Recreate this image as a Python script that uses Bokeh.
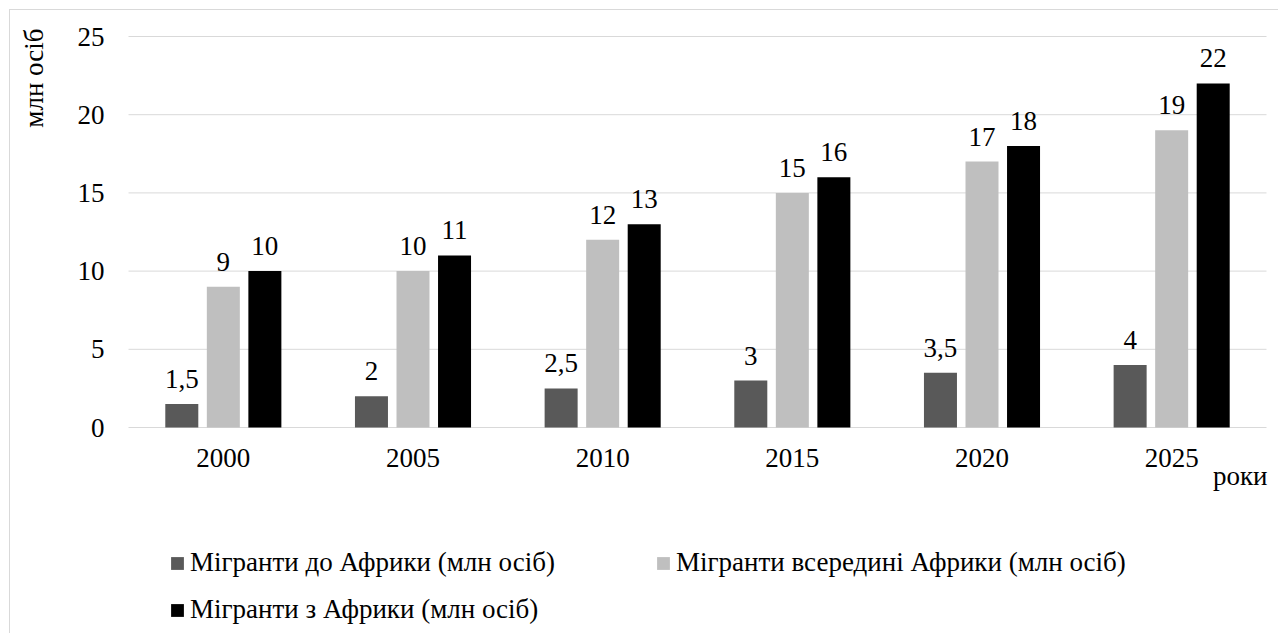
import math
from bokeh.plotting import figure
from bokeh.models import ColumnDataSource, Legend, LegendItem, Range1d
from bokeh.core.properties import value
from bokeh.embed import file_html
from bokeh.resources import INLINE

years = ["2000", "2005", "2010", "2015", "2020", "2025"]
to_africa = [1.5, 2, 2.5, 3, 3.5, 4]
within_africa = [9, 10, 12, 15, 17, 19]
from_africa = [10, 11, 13, 16, 18, 22]
y_ticks = [0, 5, 10, 15, 20, 25]

series_names = ["Мігранти до Африки (млн осіб)",
                "Мігранти всередині Африки (млн осіб)",
                "Мігранти з Африки (млн осіб)"]
x_title = "роки"
y_title = "млн осіб"
colors = ["#595959", "#bfbfbf", "#000000"]
FONT = "Liberation Serif, Times New Roman, serif"
FS = "27px"
GRID = "#d9d9d9"

def fmt(v):
    return ("%g" % v).replace(".", ",")

n = len(years)
idx = list(range(n))
offs = [-0.219, 0.0, 0.219]
series = [to_africa, within_africa, from_africa]

# one frame covers the whole canvas; the category slots occupy its middle part
G = 1138.0 / n          # px per category
PY = 391.0 / 25.0       # px per unit
p = figure(x_range=Range1d(-0.5 - 118.0 / G, n - 0.5 + 13.0 / G),
           y_range=Range1d(-207.0 / PY, 25 + 26.0 / PY),
           width=1269, height=624, output_backend="svg", toolbar_location=None,
           x_axis_type=None, y_axis_type=None,
           min_border_left=0, min_border_right=0, min_border_top=0, min_border_bottom=0)
p.styles = {"margin-left": "9px", "margin-top": "9px",
            "border-left": "1px solid #d9d9d9", "border-top": "1px solid #d9d9d9"}
p.outline_line_color = None
p.background_fill_color = "white"
p.border_fill_color = "white"
p.xgrid.visible = False
p.ygrid.visible = False

# horizontal gridlines across the category area
grid_src = ColumnDataSource(dict(x0=[-0.5] * len(y_ticks), x1=[n - 0.5] * len(y_ticks),
                                 y=y_ticks, t=[str(t) for t in y_ticks]))
p.segment(x0="x0", x1="x1", y0="y", y1="y", source=grid_src, line_color=GRID, line_width=1)
# y tick labels
p.text(x="x0", y="y", text="t", source=grid_src, x_offset=-24,
       text_align="right", text_baseline="middle",
       text_font=value(FONT), text_font_size=value(FS), text_color="black")

renderers = []
for off, vals, colr in zip(offs, series, colors):
    s = ColumnDataSource(dict(x=[i + off for i in idx], top=vals, lab=[fmt(v) for v in vals]))
    r = p.vbar(x="x", top="top", width=0.174, source=s, fill_color=colr, line_color=None)
    renderers.append(r)
    p.text(x="x", y="top", text="lab", source=s,
           text_align="center", text_baseline="alphabetic", y_offset=-25,
           text_font=value(FONT), text_font_size=value(FS), text_color="black")

# category labels
cat_src = ColumnDataSource(dict(x=idx, y=[0] * n, t=years))
p.text(x="x", y="y", text="t", source=cat_src, text_align="center",
       text_baseline="alphabetic", y_offset=30,
       text_font=value(FONT), text_font_size=value(FS), text_color="black")

# axis titles
xt_src = ColumnDataSource(dict(x=[n - 0.5], y=[0], t=[x_title]))
p.text(x="x", y="y", text="t", source=xt_src, text_align="right",
       text_baseline="alphabetic", x_offset=1, y_offset=48,
       text_font=value(FONT), text_font_size=value(FS), text_color="black")
yt_src = ColumnDataSource(dict(x=[-0.5], y=[y_ticks[-1]], t=[y_title]))
p.text(x="x", y="y", text="t", source=yt_src, angle=math.pi / 2,
       text_align="right", text_baseline="alphabetic", x_offset=-95, y_offset=-8,
       text_font=value(FONT), text_font_size=value(FS), text_color="black")

legend = Legend(items=[LegendItem(label=series_names[0], renderers=[renderers[0]]),
                       LegendItem(label=series_names[1], renderers=[renderers[1]]),
                       LegendItem(label=series_names[2], renderers=[renderers[2]])],
                orientation="horizontal", ncols=2, location=(159, 9))
legend.glyph_width = 16
legend.glyph_height = 16
legend.label_text_font = FONT
legend.label_text_font_size = FS
legend.label_text_color = "black"
legend.label_standoff = 5
legend.label_width = 449
legend.spacing = 16
legend.padding = 0
legend.margin = 0
legend.border_line_color = None
legend.background_fill_alpha = 0
p.add_layout(legend, "center")

open("out.html", "w").write(file_html(p, INLINE))
